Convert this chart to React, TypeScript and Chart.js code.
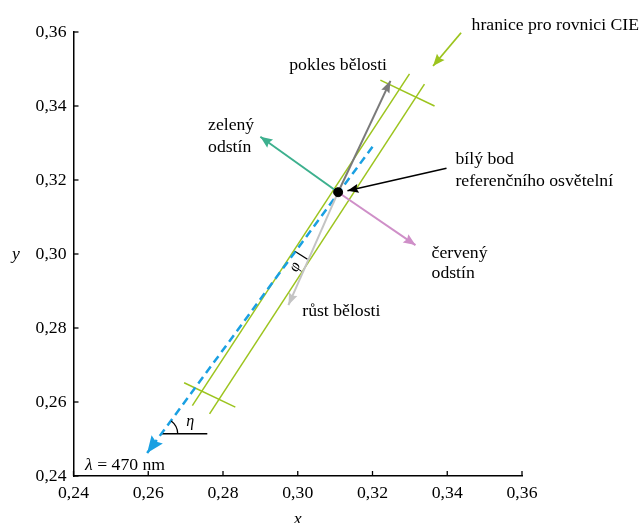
import React, { useEffect, useRef } from "react";
import { Chart, registerables } from "chart.js";

Chart.register(...registerables);

type Pt = [number, number];

// ---- axis ticks ----
const tickValues = [0.24, 0.26, 0.28, 0.3, 0.32, 0.34, 0.36];
const tickLabels = ["0,24", "0,26", "0,28", "0,30", "0,32", "0,34", "0,36"];

// ---- chart values (chromaticity x, y) ----
const whitePoint: Pt = [0.3108, 0.3167];
const cieBoundaryLeft: Pt[] = [[0.2718, 0.259], [0.3299, 0.3487]];
const cieBoundaryRight: Pt[] = [[0.2764, 0.2568], [0.3339, 0.3459]];
const boundaryCapTop: Pt[] = [[0.3221, 0.347], [0.3366, 0.34]];
const boundaryCapBottom: Pt[] = [[0.2696, 0.2652], [0.2833, 0.2586]];
const dominantLine470: Pt[] = [[0.32, 0.329], [0.2597, 0.2462]];
const whitenessDecrease: Pt[] = [whitePoint, [0.3248, 0.3468]];
const whitenessIncrease: Pt[] = [whitePoint, [0.2975, 0.2862]];
const greenTint: Pt[] = [whitePoint, [0.29, 0.3317]];
const redTint: Pt[] = [whitePoint, [0.3315, 0.3024]];
const whitePointPointer: Pt[] = [[0.3398, 0.3232], [0.3133, 0.3171]];
const boundaryPointer: Pt[] = [[0.3437, 0.3598], [0.3362, 0.3508]];
const etaReference: Pt[] = [[0.2636, 0.2514], [0.2758, 0.2514]];
const phiMarker: Pt[] = [[0.2991, 0.3008], [0.3026, 0.2986]];

// ---- annotation texts and anchors ----
const labelTexts = [
  "pokles bělosti",
  "zelený",
  "odstín",
  "bílý bod",
  "referenčního osvětelní",
  "červený",
  "odstín",
  "růst bělosti",
  "hranice pro rovnici CIE",
];
const labelX = [0.3108, 0.276, 0.276, 0.3422, 0.3422, 0.3358, 0.3358, 0.3012, 0.3465];
const labelY = [0.3511, 0.3349, 0.3289, 0.3257, 0.3197, 0.3003, 0.2949, 0.2846, 0.3619];
const labelAlign = ["center", "left", "left", "left", "left", "left", "left", "left", "left"];

const lambdaLabel = "λ = 470 nm";
const lambdaAnchor: Pt = [0.2431, 0.243];
const etaAnchor: Pt = [0.2712, 0.2546];
const phiAnchor: Pt = [0.2993, 0.2965];

const FONT = '"Liberation Serif", "Times New Roman", serif';
const FS = 17.7;

const toXY = (pts: Pt[]) => pts.map((p) => ({ x: p[0], y: p[1] }));

function lineDs(pts: Pt[], color: string, width: number, extra: any = {}) {
  return {
    type: "scatter" as const,
    data: toXY(pts),
    showLine: true,
    borderColor: color,
    backgroundColor: color,
    borderWidth: width,
    pointRadius: 0,
    pointHoverRadius: 0,
    ...extra,
  };
}

export default function App() {
  const ref = useRef<HTMLCanvasElement | null>(null);

  useEffect(() => {
    if (!ref.current) return;

    const overlay = {
      id: "overlay",
      afterDatasetsDraw(chart: any) {
        const ctx: CanvasRenderingContext2D = chart.ctx;
        const xs = chart.scales.x;
        const ys = chart.scales.y;
        const px = (p: Pt) => [xs.getPixelForValue(p[0]), ys.getPixelForValue(p[1])];

        ctx.save();
        // inward tick marks
        ctx.strokeStyle = "#000";
        ctx.lineWidth = 1.3;
        tickValues.forEach((v) => {
          const x = xs.getPixelForValue(v);
          ctx.beginPath();
          ctx.moveTo(x, ys.bottom);
          ctx.lineTo(x, ys.bottom - 5);
          ctx.stroke();
          const y = ys.getPixelForValue(v);
          ctx.beginPath();
          ctx.moveTo(xs.left, y);
          ctx.lineTo(xs.left + 5, y);
          ctx.stroke();
        });

        // arrowheads
        chart.data.datasets.forEach((ds: any, i: number) => {
          if (!ds.arrowLen) return;
          const meta = chart.getDatasetMeta(i);
          const pts = meta.data;
          const a = pts[pts.length - 2];
          const b = pts[pts.length - 1];
          const ang = Math.atan2(b.y - a.y, b.x - a.x);
          ctx.save();
          ctx.translate(b.x, b.y);
          ctx.rotate(ang);
          ctx.fillStyle = ds.borderColor;
          ctx.beginPath();
          ctx.moveTo(0, 0);
          ctx.lineTo(-ds.arrowLen, ds.arrowWidth / 2);
          ctx.lineTo(-ds.arrowLen * 0.85, 0);
          ctx.lineTo(-ds.arrowLen, -ds.arrowWidth / 2);
          ctx.closePath();
          ctx.fill();
          ctx.restore();
        });

        // eta arc
        const [ex, ey] = px(etaReference[0]);
        const [bx1, by1] = px(dominantLine470[0]);
        const [bx2, by2] = px(dominantLine470[1]);
        const bAng = Math.atan2(by1 - by2, bx1 - bx2);
        ctx.strokeStyle = "#000";
        ctx.lineWidth = 1.3;
        ctx.beginPath();
        ctx.arc(ex, ey, 16, bAng, 0);
        ctx.stroke();

        // texts
        ctx.fillStyle = "#000";
        ctx.textBaseline = "middle";
        ctx.font = `${FS}px ${FONT}`;
        labelTexts.forEach((t, i) => {
          const [x, y] = px([labelX[i], labelY[i]]);
          ctx.textAlign = labelAlign[i] as CanvasTextAlign;
          ctx.fillText(t, x, y);
        });

        // lambda label
        {
          const [x, y] = px(lambdaAnchor);
          ctx.textAlign = "left";
          ctx.font = `italic ${FS}px ${FONT}`;
          ctx.fillText("λ", x, y);
          const w = ctx.measureText("λ").width;
          ctx.font = `${FS}px ${FONT}`;
          ctx.fillText(lambdaLabel.slice(1), x + w, y);
        }

        // eta & phi
        {
          const [x, y] = px(etaAnchor);
          ctx.font = `italic 16px ${FONT}`;
          ctx.textAlign = "center";
          ctx.fillText("η", x, y);
          const [fx, fy] = px(phiAnchor);
          ctx.save();
          ctx.translate(fx, fy);
          ctx.rotate(-Math.PI * 0.36);
          ctx.fillText("φ", 0, 0);
          ctx.restore();
        }

        // axis titles
        ctx.font = `italic ${FS}px ${FONT}`;
        ctx.textAlign = "center";
        ctx.fillText("y", 16, (ys.top + ys.bottom) / 2);
        ctx.fillText("x", (xs.left + xs.right) / 2, 519);
        ctx.restore();
      },
    };

    const chart = new Chart(ref.current, {
      type: "scatter",
      data: {
        datasets: [
          {
            type: "scatter",
            data: toXY([whitePoint]),
            pointRadius: 4.5,
            pointBackgroundColor: "#000",
            pointBorderColor: "#000",
            showLine: false,
          } as any,
          lineDs(whitePointPointer, "#000000", 1.5, { arrowLen: 11, arrowWidth: 9 }),
          lineDs(greenTint, "#3db08e", 2, { arrowLen: 12, arrowWidth: 10 }),
          lineDs(redTint, "#cf8fc8", 2, { arrowLen: 12, arrowWidth: 10 }),
          lineDs(whitenessDecrease, "#7a7a7a", 2, { arrowLen: 12, arrowWidth: 9 }),
          lineDs(whitenessIncrease, "#c4c4c4", 2, { arrowLen: 12, arrowWidth: 9 }),
          lineDs(dominantLine470, "#1aa0e2", 2.5, { borderDash: [8, 5], arrowLen: 17, arrowWidth: 14 }),
          lineDs(boundaryPointer, "#9cc41e", 1.8, { arrowLen: 12, arrowWidth: 10 }),
          lineDs(cieBoundaryLeft, "#9cc41e", 1.5),
          lineDs(cieBoundaryRight, "#9cc41e", 1.5),
          lineDs(boundaryCapTop, "#9cc41e", 1.5),
          lineDs(boundaryCapBottom, "#9cc41e", 1.5),
          lineDs(etaReference, "#000000", 1.5),
          lineDs(phiMarker, "#000000", 1.3),
        ],
      },
      options: {
        responsive: false,
        animation: false,
        events: [],
        layout: { padding: { left: 0, top: 32, right: 119, bottom: 0 } },
        plugins: { legend: { display: false }, tooltip: { enabled: false } },
        scales: {
          x: {
            type: "linear",
            min: 0.24,
            max: 0.36,
            afterBuildTicks: (s: any) => {
              s.ticks = tickValues.map((v) => ({ value: v }));
            },
            afterFit: (s: any) => {
              s.height = 47;
            },
            grid: { display: false, drawTicks: false },
            border: { display: true, color: "#000", width: 1.5 },
            ticks: {
              padding: 7,
              color: "#000",
              font: { family: FONT, size: FS },
              maxRotation: 0,
              callback: (v: any) => tickLabels[tickValues.findIndex((t) => Math.abs(t - v) < 1e-6)] ?? "",
            },
          },
          y: {
            type: "linear",
            min: 0.24,
            max: 0.36,
            afterBuildTicks: (s: any) => {
              s.ticks = tickValues.map((v) => ({ value: v }));
            },
            afterFit: (s: any) => {
              s.width = 73.5;
            },
            grid: { display: false, drawTicks: false },
            border: { display: true, color: "#000", width: 1.5 },
            ticks: {
              padding: 7,
              color: "#000",
              font: { family: FONT, size: FS },
              callback: (v: any) => tickLabels[tickValues.findIndex((t) => Math.abs(t - v) < 1e-6)] ?? "",
            },
          },
        },
      },
      plugins: [overlay],
    });

    return () => chart.destroy();
  }, []);

  return (
    <div style={{ position: "absolute", left: 0, top: 0, width: 641, height: 523, background: "#fff" }}>
      <canvas ref={ref} width={641} height={523} style={{ display: "block" }} />
    </div>
  );
}
